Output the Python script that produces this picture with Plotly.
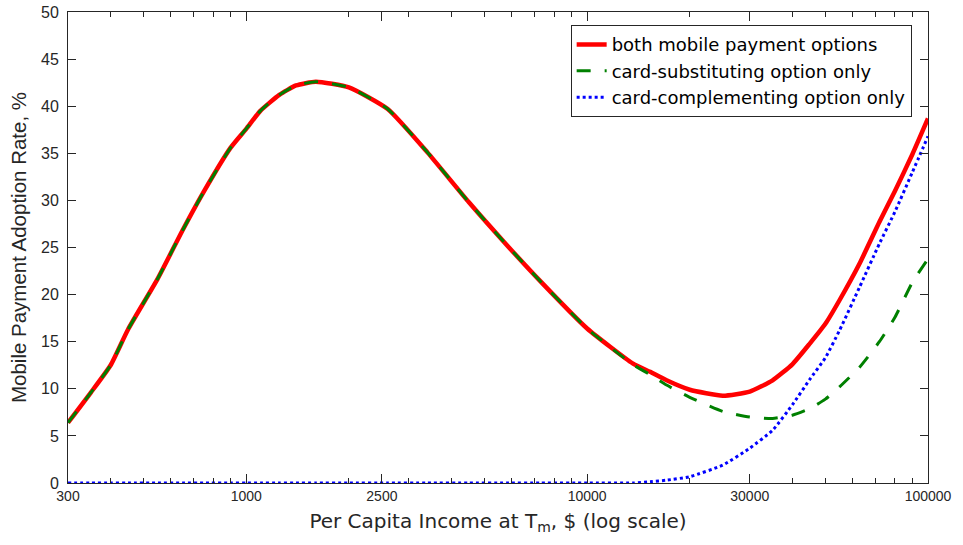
import plotly.graph_objects as go

income = [300, 350, 400, 450, 550, 650, 750, 900, 1000, 1100, 1250, 1400, 1600, 2000, 2600,
          3400, 4500, 5800, 7300, 10000, 13600, 15300, 17100, 20000, 25000, 30000, 35000,
          40000, 45000, 50000, 55000, 63000, 72000, 80000, 90000, 100000]

both = [6.4, 9.6, 12.5, 16.3, 21.7, 26.8, 30.9, 35.6, 37.6, 39.5, 41.2, 42.2, 42.6, 42.0, 39.7,
        35.1, 29.8, 25.3, 21.4, 16.4, 12.7, 11.8, 10.9, 9.9, 9.27, 9.7, 10.9,
        12.6, 14.8, 16.9, 19.4, 23.3, 27.7, 31.0, 34.9, 38.7]

substituting = [6.4, 9.6, 12.5, 16.3, 21.7, 26.8, 30.9, 35.6, 37.6, 39.5, 41.2, 42.2, 42.6, 42.0, 39.7,
                35.1, 29.8, 25.3, 21.4, 16.4, 12.6, 11.5, 10.4, 9.1, 7.6, 7.0, 6.85,
                7.2, 7.9, 8.9, 10.2, 12.3, 15.0, 17.6, 21.3, 23.8]

complementing = [0, 0, 0, 0, 0, 0, 0, 0, 0, 0, 0, 0, 0, 0, 0,
                 0, 0, 0, 0, 0, 0.0, 0.14, 0.3, 0.67, 1.9, 3.7, 5.6,
                 8.3, 11.0, 13.3, 16.2, 20.8, 25.4, 28.8, 33.0, 36.8]

series_names = ["both mobile payment options", "card-substituting option only",
                "card-complementing option only"]

x_tickvals = [300, 1000, 2500, 10000, 30000, 100000]
x_ticktext = ["300", "1000", "2500", "10000", "30000", "100000"]
x_minor = [400, 500, 600, 700, 800, 900, 2000, 3000, 4000, 5000, 6000, 7000, 8000, 9000,
           20000, 40000, 50000, 60000, 70000, 80000, 90000]
y_tickvals = list(range(0, 51, 5))

fig = go.Figure()
fig.add_trace(go.Scatter(x=income, y=both, mode="lines", name=series_names[0],
                         line=dict(color="#ff0000", width=4.5, shape="spline", smoothing=0.5)))
fig.add_trace(go.Scatter(x=income, y=substituting, mode="lines", name=series_names[1],
                         line=dict(color="#008000", width=3, dash="14px,14px", shape="spline", smoothing=0.5)))
fig.add_trace(go.Scatter(x=income, y=complementing, mode="lines", name=series_names[2],
                         line=dict(color="#0000ff", width=3, dash="3px,3px", shape="spline", smoothing=0.5)))
# invisible copy on the overlaid axis so that its minor tick marks get drawn
fig.add_trace(go.Scatter(x=income, y=both, mode="lines", xaxis="x2", showlegend=False,
                         hoverinfo="skip", line=dict(color="rgba(0,0,0,0)", width=0)))

axis_color = "#262626"
xrange = [2.4771, 5.0]
fig.update_layout(
    width=963, height=545,
    margin=dict(l=68, r=35, t=12, b=62, autoexpand=False),
    paper_bgcolor="white", plot_bgcolor="white",
    font=dict(family="Liberation Sans, Arial, sans-serif", size=15, color=axis_color),
    showlegend=True,
    legend=dict(x=0.981, y=0.972, xanchor="right", yanchor="top",
                bgcolor="white", bordercolor=axis_color, borderwidth=1,
                font=dict(family="DejaVu Sans, sans-serif", size=18, color="#000000"),
                tracegroupgap=0),
    xaxis=dict(type="log", range=xrange, automargin=False,
               tickmode="array", tickvals=x_tickvals, ticktext=x_ticktext,
               tickfont=dict(family="Liberation Sans, Arial", size=14),
               ticks="inside", ticklen=9, tickcolor=axis_color,
               showline=True, linecolor=axis_color, linewidth=1, mirror="ticks",
               showgrid=False, zeroline=False,
               title=dict(text="Per Capita Income at T<sub>m</sub>, $ (log scale)",
                          font=dict(family="DejaVu Sans, sans-serif", size=20), standoff=11)),
    xaxis2=dict(type="log", range=xrange, overlaying="x", anchor="y", side="bottom",
                automargin=False,
                tickmode="array", tickvals=x_minor, ticktext=[""] * len(x_minor),
                showticklabels=False,
                ticks="inside", ticklen=5, tickcolor=axis_color,
                showline=True, linecolor=axis_color, linewidth=1, mirror="ticks",
                showgrid=False, zeroline=False),
    yaxis=dict(range=[0, 50], tickmode="array", tickvals=y_tickvals, automargin=False,
               tickfont=dict(size=16), ticklabelstandoff=5,
               ticks="inside", ticklen=8, tickcolor=axis_color,
               showline=True, linecolor=axis_color, linewidth=1, mirror="ticks",
               showgrid=False, zeroline=False,
               title=dict(text="Mobile Payment Adoption Rate, %",
                          font=dict(family="Liberation Sans, Arial, sans-serif", size=20.5), standoff=8)),
)

fig.write_html("out.html")
